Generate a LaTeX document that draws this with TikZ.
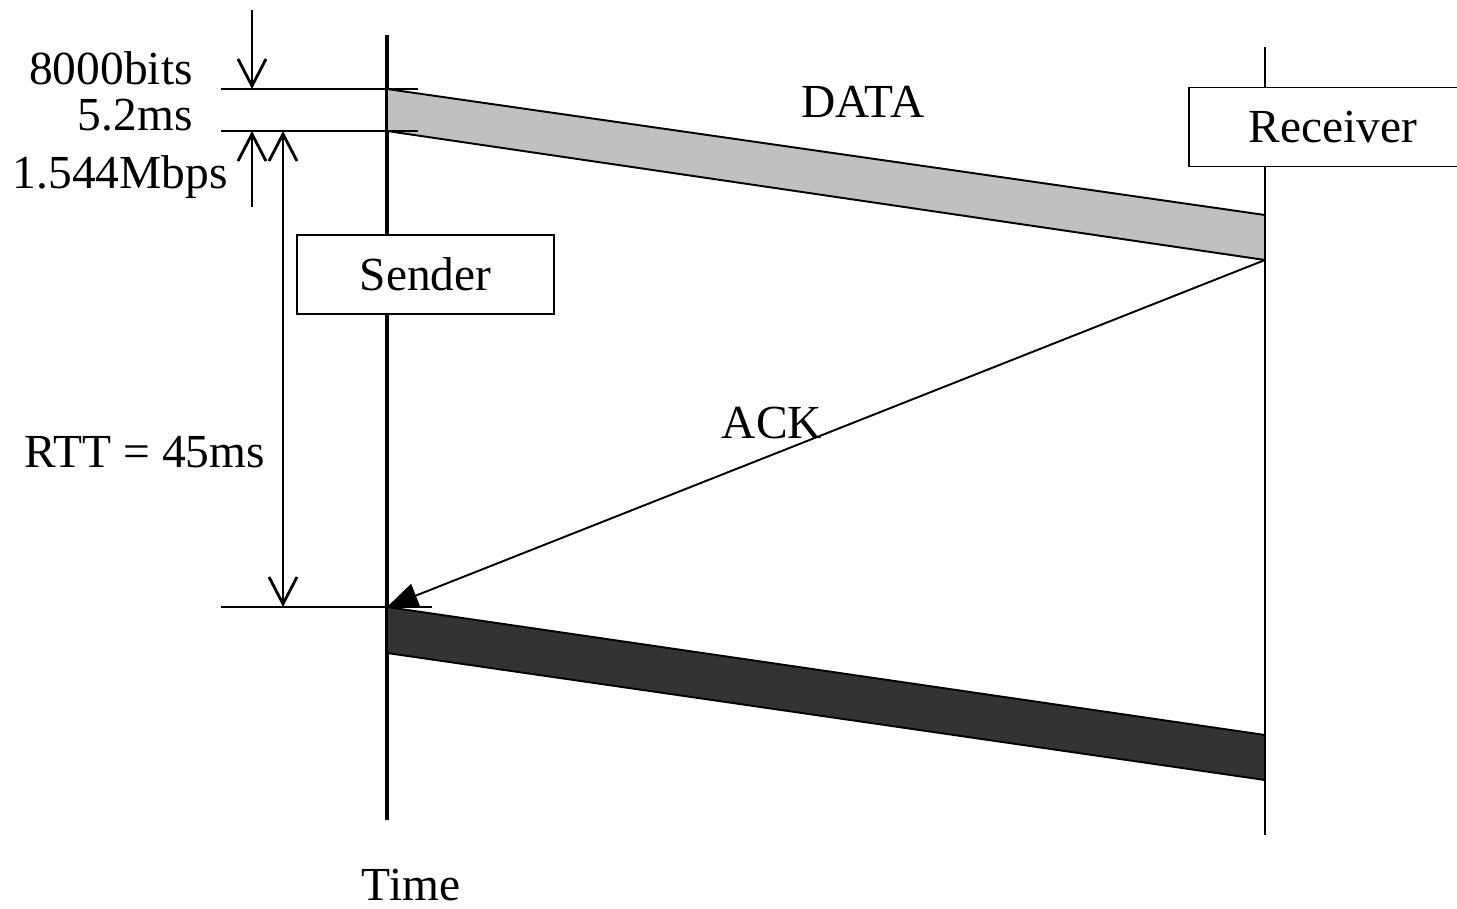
\documentclass[tikz,border=0pt]{standalone}
\usepackage{fontspec}
\setmainfont{Liberation Serif}
\usetikzlibrary{arrows.meta, positioning}
\definecolor{datagray}{RGB}{192,192,192}
\definecolor{ackdark}{RGB}{51,51,51}
\tikzset{
  barb/.tip={Straight Barb[length=0.54cm, width=0.56cm]},
  lifeline/.style={line width=1.8pt},
  tick/.style={line width=1.6pt},
  ackarrow/.style={line width=1.1pt, -{Triangle[length=0.62cm, width=0.5cm]}},
  packet/.style={draw, line width=1.1pt, line join=miter},
  box/.style={rectangle, draw, fill=white, line width=0.9pt, minimum height=1.58cm, font=\fontsize{27}{32}\selectfont},
  txt/.style={inner sep=0pt, font=\fontsize{27}{32}\selectfont}
}

\begin{document}
\begin{tikzpicture}[x=0.02cm, y=-0.02cm]
  \useasboundingbox (0,0) rectangle (1457,909);

  % time lines of sender and receiver
  \coordinate (s top) at (387,35);
  \coordinate (s bot) at (387,820);
  \coordinate (r top) at (1265,47);
  \coordinate (r bot) at (1265,835);
  \draw[lifeline] (s top) -- (s bot);
  \draw[lifeline, line width=1.3pt] (r top) -- (r bot);

  % data packet
  \coordinate (d1) at (387,89);
  \coordinate (d2) at (1265,215);
  \coordinate (d3) at (1265,260);
  \coordinate (d4) at (387,131);
  \draw[packet, fill=datagray] (d1) -- (d2) -- (d3) -- (d4) -- cycle;

  % ack back to the sender
  \coordinate (a1) at (387,607);
  \draw[ackarrow] (d3) -- (a1);

  % next packet
  \coordinate (n2) at (1265,735);
  \coordinate (n3) at (1265,780);
  \coordinate (n4) at (387,653);
  \draw[packet, fill=ackdark] (a1) -- (n2) -- (n3) -- (n4) -- cycle;

  % host boxes
  \node[box, minimum width=5.14cm] (sender) at (425.5,274.5) {Sender};
  \node[box, minimum width=5.76cm] (receiver) at (1333,127) {Receiver};

  % reference marks
  \coordinate (m1l) at (221,89);
  \coordinate (m1r) at (418,89);
  \coordinate (m2l) at (221,131);
  \coordinate (m2r) at (418,131);
  \coordinate (m3l) at (221,607);
  \coordinate (m3r) at (432,607);
  \draw[tick] (m1l) -- (m1r);
  \draw[tick] (m2l) -- (m2r);
  \draw[tick] (m3l) -- (m3r);

  % dimension arrows
  \coordinate (p top) at (252,10);
  \coordinate (p down) at (252,89);
  \coordinate (p low) at (252,207);
  \coordinate (p up) at (252,131);
  \coordinate (rtt top) at (283,131);
  \coordinate (rtt bot) at (283,607);
  \draw[tick, -barb] (p top) -- (p down);
  \draw[tick, -barb] (p low) -- (p up);
  \draw[tick, barb-barb] (rtt top) -- (rtt bot);

  % labels
  \node[txt, anchor=east] (bits) at (193,68) {8000bits};
  \node[txt, anchor=east] (tx) at (193,115) {5.2ms};
  \node[txt, anchor=east] (rate) at (228,177) {1.544Mbps};
  \node[txt] (rtt) at (145,452) {RTT = 45ms};
  \node[txt] (data) at (863,102) {DATA};
  \node[txt] (ack) at (772,423) {ACK};
  \node[txt] (time) at (411,885) {Time};
\end{tikzpicture}
\end{document}
